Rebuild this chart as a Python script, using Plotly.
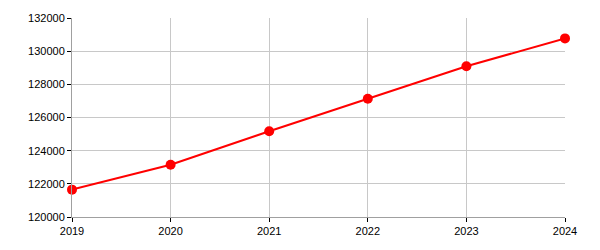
import plotly.graph_objects as go

years = [2019, 2020, 2021, 2022, 2023, 2024]
values = [121650, 123150, 125170, 127130, 129090, 130770]
y_ticks = [120000, 122000, 124000, 126000, 128000, 130000, 132000]

fig = go.Figure(go.Scatter(
    x=years, y=values, mode="lines+markers",
    line=dict(color="#ff0000", width=2),
    marker=dict(color="#ff0000", size=10),
    cliponaxis=False,
))

fig.update_layout(
    width=600, height=250,
    margin=dict(l=72, r=35, t=15, b=33),
    paper_bgcolor="white", plot_bgcolor="white",
    font=dict(family="Liberation Sans, Arial, sans-serif", size=11, color="black"),
    showlegend=False,
)
fig.update_xaxes(
    range=[2019, 2024], tickvals=years, ticktext=[str(y) for y in years],
    showgrid=True, gridcolor="#c8c8c8", gridwidth=1,
    showline=True, linecolor="#a0a0a0", linewidth=1,
    ticks="outside", ticklen=4, tickcolor="black", zeroline=False,
)
fig.update_yaxes(
    range=[120000, 132000], tickvals=y_ticks, ticktext=[str(v) for v in y_ticks],
    showgrid=True, gridcolor="#c8c8c8", gridwidth=1,
    showline=True, linecolor="#a0a0a0", linewidth=1,
    ticks="outside", ticklen=4, tickcolor="black", zeroline=False,
)
fig.write_html("out.html")
